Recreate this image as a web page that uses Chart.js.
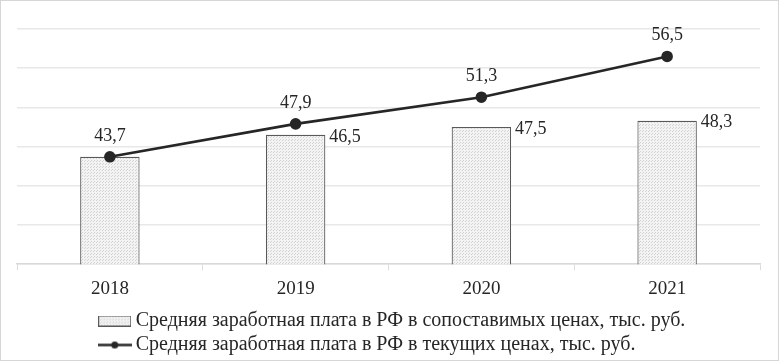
<!DOCTYPE html>
<html lang="ru">

<head>
    <meta charset="UTF-8">
    <title>Средняя заработная плата</title>
    <script src="https://cdn.jsdelivr.net/npm/chart.js"></script>
    <style>
        body { margin: 0; background: #fff; }
        .box { width: 779px; height: 361px; box-sizing: border-box; border: 1px solid #d6d6d6; position: relative; }
        canvas { display: block; }
    </style>
</head>

<body>
    <div class="box">
        <canvas id="grafico" width="777" height="359"></canvas>
    </div>

<script>

    // dados do gráfico
    const anos = ['2018', '2019', '2020', '2021'];
    const salarioComparavel = [43.7, 46.5, 47.5, 48.3];
    const salarioCorrente = [43.7, 47.9, 51.3, 56.5];
    const nomeComparavel = 'Средняя заработная плата в РФ в сопоставимых ценах, тыс. руб.';
    const nomeCorrente = 'Средняя заработная плата в РФ в текущих ценах, тыс. руб.';

    const fonte = '"Liberation Serif", "Times New Roman", serif';
    const corTexto = '#262626';

    // padrão pontilhado das colunas
    function criarPadrao() {
        const c = document.createElement('canvas');
        c.width = 3; c.height = 3;
        const g = c.getContext('2d');
        g.fillStyle = '#f3f3f3';
        g.fillRect(0, 0, 3, 3);
        g.fillStyle = '#d2d2d2';
        g.fillRect(0, 0, 1, 1);
        g.fillRect(2, 1, 1, 1);
        return g.createPattern(c, 'repeat');
    }
    const padrao = criarPadrao();

    // ícones da legenda
    function iconeColuna() {
        const c = document.createElement('canvas');
        c.width = 33; c.height = 11;
        const g = c.getContext('2d');
        g.fillStyle = padrao;
        g.fillRect(0.5, 0.5, 32, 10);
        g.strokeStyle = '#595959';
        g.lineWidth = 1;
        g.strokeRect(0.5, 0.5, 32, 10);
        return c;
    }
    function iconeLinha() {
        const c = document.createElement('canvas');
        c.width = 34; c.height = 9;
        const g = c.getContext('2d');
        g.strokeStyle = '#262626';
        g.lineWidth = 2.5;
        g.beginPath(); g.moveTo(0, 4.5); g.lineTo(34, 4.5); g.stroke();
        g.fillStyle = '#262626';
        g.beginPath(); g.arc(17, 4.5, 3.5, 0, Math.PI * 2); g.fill();
        return c;
    }

    // rótulos de valores (vírgula decimal)
    const rotulos = {
        id: 'rotulos',
        afterDatasetsDraw(chart) {
            const ctx = chart.ctx;
            ctx.save();
            ctx.font = '18px ' + fonte;
            ctx.fillStyle = corTexto;
            const barras = chart.getDatasetMeta(0).data;
            const pontos = chart.getDatasetMeta(1).data;
            barras.forEach(function (b, i) {
                if (salarioComparavel[i] == salarioCorrente[i]) return;
                ctx.textAlign = 'left';
                ctx.textBaseline = 'middle';
                ctx.fillText(salarioComparavel[i].toFixed(1).replace('.', ','), b.x + b.width / 2 + 4, b.y + 2);
            });
            pontos.forEach(function (p, i) {
                ctx.textAlign = 'center';
                ctx.textBaseline = 'middle';
                ctx.fillText(salarioCorrente[i].toFixed(1).replace('.', ','), p.x, p.y - 21);
            });
            ctx.restore();
        }
    };

    // segunda linha da legenda alinhada à esquerda com a primeira
    const legendaAlinhada = {
        id: 'legendaAlinhada',
        afterUpdate(chart) {
            const lg = chart.legend;
            if (lg && lg.lineWidths && lg.lineWidths.length > 1) {
                lg.lineWidths[0] = lg.lineWidths[0] - 12;
                lg.lineWidths[1] = lg.lineWidths[0];
            }
        }
    };

    const config = {
        data: {
            labels: anos,
            datasets: [{
                type: 'bar',
                label: nomeComparavel,
                data: salarioComparavel,
                backgroundColor: padrao,
                borderColor: '#595959',
                borderWidth: 1.2,
                barPercentage: 0.32,
                categoryPercentage: 1,
                order: 1
            }, {
                type: 'line',
                label: nomeCorrente,
                data: salarioCorrente,
                borderColor: '#262626',
                backgroundColor: '#262626',
                borderWidth: 2.6,
                pointRadius: 4.5,
                pointHoverRadius: 4.5,
                tension: 0,
                order: 0
            }]
        },
        options: {
            responsive: false,
            animation: false,
            layout: { padding: { left: 16, right: 18, top: 28, bottom: -5 } },
            scales: {
                x: {
                    grid: { display: true, offset: true, drawOnChartArea: false, color: '#dcdcdc', tickLength: 6 },
                    border: { display: true, color: '#d9d9d9', width: 1.5 },
                    ticks: { color: corTexto, font: { family: fonte, size: 19 }, padding: 7 }
                },
                y: {
                    min: 30,
                    max: 60,
                    ticks: { stepSize: 5, display: false },
                    grid: { color: '#e8e8e8', lineWidth: 1.5, drawTicks: false },
                    border: { display: false }
                }
            },
            plugins: {
                tooltip: { enabled: false },
                legend: {
                    position: 'bottom',
                    labels: {
                        usePointStyle: true,
                        pointStyleWidth: 22,
                        padding: 4,
                        color: corTexto,
                        font: { family: fonte, size: 20 },
                        generateLabels: function (chart) {
                            return [
                                { text: nomeComparavel, pointStyle: iconeColuna(), datasetIndex: 0, fontColor: corTexto, hidden: false, lineWidth: 0 },
                                { text: nomeCorrente, pointStyle: iconeLinha(), datasetIndex: 1, fontColor: corTexto, hidden: false, lineWidth: 0 }
                            ];
                        }
                    }
                }
            }
        },
        plugins: [rotulos, legendaAlinhada]
    };

    let myChart = new Chart(document.getElementById('grafico'), config);

</script>
</body>

</html>
